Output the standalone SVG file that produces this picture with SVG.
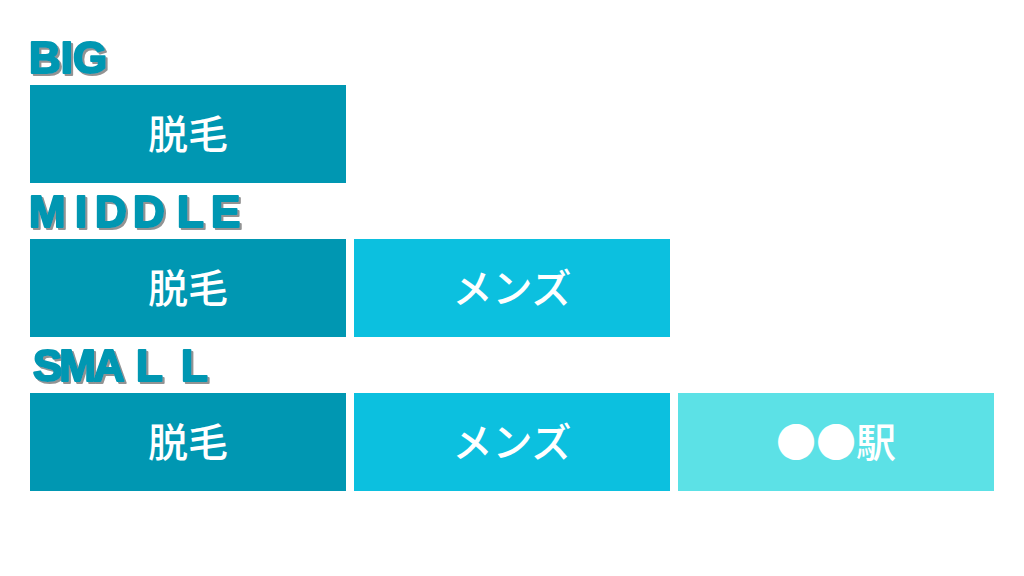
<svg xmlns="http://www.w3.org/2000/svg" width="1024" height="576" viewBox="0 0 1024 576">
<defs>
<filter id="sh" x="-10%" y="-10%" width="130%" height="140%">
<feDropShadow dx="2" dy="2" stdDeviation="0.6" flood-color="#777" flood-opacity="0.8"/>
</filter>
</defs>
<style>
.h{font-family:"Liberation Sans",Arial,sans-serif;font-weight:900;fill:#0097b2;font-size:44px;filter:url(#sh);stroke:#0097b2;stroke-width:2.2;stroke-linejoin:round}
.t{font-family:"Noto Sans CJK JP","Noto Sans",sans-serif;font-size:40px;fill:#fff;text-anchor:middle;font-weight:500}
.c1{fill:#0097b2}.c2{fill:#0cc0df}.c3{fill:#5ce1e6}
</style>
<rect width="1024" height="576" fill="#fff"/>
<g id="label-big"><text class="h" x="29" y="73">BIG</text></g>
<g id="label-middle"><text class="h" y="227"><tspan x="29">M</tspan><tspan x="75">I</tspan><tspan x="95">D</tspan><tspan x="133">D</tspan><tspan x="177">L</tspan><tspan x="211">E</tspan></text></g>
<g id="label-small"><text class="h" y="381"><tspan x="33" letter-spacing="-3">SMA</tspan><tspan x="136">L</tspan><tspan x="181">L</tspan></text></g>
<g id="big-1"><rect class="c1" x="30" y="85" width="316" height="98"/><text class="t" x="188" y="149">脱毛</text></g>
<g id="middle-1"><rect class="c1" x="30" y="239" width="316" height="98"/><text class="t" x="188" y="303">脱毛</text></g>
<g id="middle-2"><rect class="c2" x="354" y="239" width="316" height="98"/><text class="t" x="512" y="303">メンズ</text></g>
<g id="small-1"><rect class="c1" x="30" y="393" width="316" height="98"/><text class="t" x="188" y="457">脱毛</text></g>
<g id="small-2"><rect class="c2" x="354" y="393" width="316" height="98"/><text class="t" x="512" y="457">メンズ</text></g>
<g id="small-3"><rect class="c3" x="678" y="393" width="316" height="98"/><text class="t" x="836" y="457">●●駅</text></g>
<g id="connectors"></g>
</svg>
